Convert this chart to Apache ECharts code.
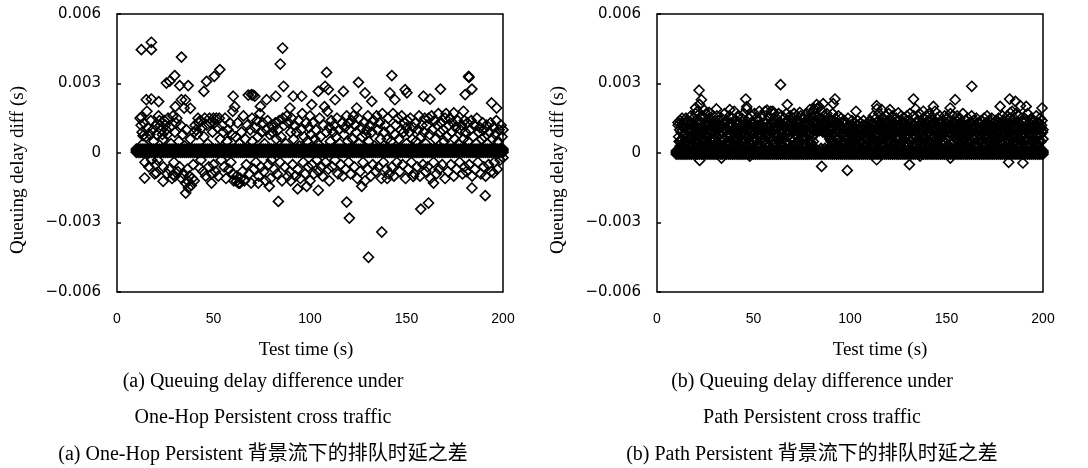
<!DOCTYPE html>
<html>
<head>
<meta charset="utf-8">
<script src="https://cdn.jsdelivr.net/npm/echarts@6/dist/echarts.min.js"></script>
<style>
  html, body { margin: 0; padding: 0; background: #fff; }
  #chart { width: 1088px; height: 468px; }
</style>
</head>
<body>
<div id="chart"></div>
<script>
// x: test time (s), y: queuing delay diff in ms (axis labels show seconds)
var yTickValues = [-6, -3, 0, 3, 6];
var yTickLabels = ['\u22120.006', '\u22120.003', '0', '0.003', '0.006'];

// band of points sitting on zero, one per second
var bandT = [10,11,12,13,14,15,16,17,18,19,20,21,22,23,24,25,26,27,28,29,30,31,32,33,34,35,36,37,38,39,40,41,42,43,44,45,46,47,48,49,50,51,52,53,54,55,56,57,58,59,60,61,62,63,64,65,66,67,68,69,70,71,72,73,74,75,76,77,78,79,80,81,82,83,84,85,86,87,88,89,90,91,92,93,94,95,96,97,98,99,100,101,102,103,104,105,106,107,108,109,110,111,112,113,114,115,116,117,118,119,120,121,122,123,124,125,126,127,128,129,130,131,132,133,134,135,136,137,138,139,140,141,142,143,144,145,146,147,148,149,150,151,152,153,154,155,156,157,158,159,160,161,162,163,164,165,166,167,168,169,170,171,172,173,174,175,176,177,178,179,180,181,182,183,184,185,186,187,188,189,190,191,192,193,194,195,196,197,198,199,200];
var leftBandLevels = [0.03, 0.1, 0.17];
var rightBandLevels = [-0.05, 0.02, 0.09];

// (a) One-Hop Persistent: scattered points
var leftOutliers = [[12.6,4.46],[17.8,4.78],[17.8,4.46],[33.4,4.14],[85.8,4.53],[84.6,3.84],[86.3,2.88],[130.3,-4.5],[137.2,-3.41],[120.4,-2.81],[119,-2.12],[83.6,-2.09],[157.4,-2.42],[161.4,-2.16],[190.8,-1.84],[35.6,-1.73],[182.2,3.31],[182.4,3.26],[142.4,3.34],[108.6,3.48],[125.1,3.05],[53.3,3.6],[50.4,3.31],[46.4,3.09],[45,2.66],[25.6,3.02],[27.3,3.1],[29.9,3.34],[33.4,2.3],[34.8,1.94],[32.5,2.91],[36.9,2.91],[15.2,2.3],[17.8,2.33],[12.6,1.55],[13.5,0.75],[14.3,-1.08],[20.4,-0.86],[23.9,-1.22],[29.1,-0.94],[36.9,-1.22],[49,-1.3],[42.9,-0.65],[61.9,-1.22],[63.7,-1.3],[73.2,-1.3],[78.9,-1.44],[93.6,-1.55],[98.3,-1.44],[104.3,-1.61],[126.8,-1.44],[153.5,-1.01],[164,-1.3],[183.9,-1.51],[195.1,-0.86],[60.2,2.45],[69.7,2.52],[71.4,2.45],[74.3,2.01],[77.5,2.3],[82.3,2.45],[91.3,2.45],[95.7,2.45],[89.6,1.94],[100.9,2.09],[104.3,2.66],[107.8,2.88],[109.5,2.74],[113,2.3],[117.3,2.66],[124.2,1.94],[128.5,2.59],[132,2.23],[141.4,2.59],[144,2.3],[149.3,2.73],[150.2,2.6],[158.8,2.45],[162.2,2.33],[167.6,2.76],[179.5,1.8],[180.4,2.52],[183.9,2.76],[194.1,2.16],[196.7,1.94],[174.5,1.73],[21.6,2.22],[30.2,2.0],[38,1.93],[35.4,2.29]];
var leftCloud = [
  [12,1.5],[12.5,1.2],[13,0.9],[13.5,0.4],[14,1.3],[14.5,-0.4],[15,0.7],[15.5,1.8],[16,1.1],[16.5,-0.6],[17,0.8],[17.5,1.4],[18,-0.3],[18.5,1.0],[19,0.5],[19.5,-0.9],[20,1.2],[20,-0.5],
  [20.5,0.8],[21,-0.3],[21.5,1.6],[22,1.4],[22.5,1.2],[23,1.0],[23.5,0.8],[24,0.6],[24,-0.6],[24.5,1.4],[25,1.2],[25.5,1.0],[26,0.8],[26,-0.9],[26.5,1.5],[27,-0.7],[27.5,1.1],[28,0.4],[28.5,-1.1],[29,1.6],[29.5,-0.4],[30,0.9],[30,-1.0],
  [30.5,1.3],[31,1.5],[31.5,-0.8],[32,0.5],[32.5,-0.6],[33,1.2],[33.5,-1.1],[34,0.8],[34.5,-0.9],[35,0.3],[35.5,-1.3],[36,1.0],[36.5,-0.7],[37,-1.5],[37.5,-1.0],[38,0.6],[38.5,-1.4],[39,-1.1],[39.5,-0.5],[40,0.9],[40,-1.2],
  [40.5,1.2],[41,1.0],[41.5,0.8],[42,1.5],[42.5,1.3],[43,1.4],[43.5,-0.3],[44,1.1],[44.5,-0.8],[45,0.7],[45.5,1.5],[46,-1.0],[46.5,1.2],[47,0.4],[47.5,-0.6],[48,1.5],[48.5,1.3],[49,-0.9],[49.5,0.9],[50,1.5],[50,-0.5],
  [50.5,1.3],[51,-0.8],[51.5,1.5],[52,1.1],[52.5,-1.0],[53,1.5],[53.5,0.6],[54,-0.3],[54.5,1.2],[55,0.9],[55.5,-0.6],[56,1.5],[56.5,-1.1],[57,0.5],[57.5,1.0],[58,-0.7],[58.5,1.3],[59,-0.4],[59.5,0.8],[60,-0.9],[60,1.8],
  [60.5,-1.2],[61,2.0],[61.5,0.7],[62,-1.0],[62.5,1.3],[63,-1.3],[63.5,0.4],[64,-1.1],[64.5,0.9],[65,-0.8],[65.5,1.6],[66,-1.2],[66.5,0.6],[67,-0.5],[67.5,1.2],[68,2.5],[68.5,-0.9],[69,1.0],[69.5,-1.3],[70,0.5],[70,1.5],
  [70.5,2.5],[71,-0.7],[71.5,1.1],[72,-0.4],[72.5,1.4],[73,0.7],[73.5,-1.0],[74,1.7],[74.5,-0.6],[75,0.9],[75.5,1.3],[76,-0.8],[76.5,0.4],[77,-1.2],[77.5,1.0],[78,1.4],[78.5,-0.5],[79,0.8],[79.5,-1.1],[80,1.2],[80,-0.3],
  [80.5,0.9],[81,1.1],[81.5,-0.7],[82,1.3],[82.5,0.6],[83,-0.9],[83.5,1.0],[84,1.4],[84.5,-0.4],[85,0.7],[85.5,-1.2],[86,1.5],[86.5,1.2],[87,-0.6],[87.5,0.4],[88,1.6],[88.5,-1.0],[89,1.3],[89.5,-0.8],[90,0.9],[90,-1.2],
  [90.5,1.5],[91,-0.5],[91.5,0.6],[92,1.2],[92.5,-1.0],[93,0.9],[93.5,-0.7],[94,1.4],[94.5,0.3],[95,-1.1],[95.5,1.0],[96,1.7],[96.5,-0.4],[97,0.7],[97.5,-0.9],[98,1.3],[98.5,0.5],[99,-0.6],[99.5,1.1],[100,-1.2],[100,1.6],
  [100.5,0.8],[101,-0.5],[101.5,1.3],[102,-0.9],[102.5,0.6],[103,1.0],[103.5,-0.3],[104,0.4],[104.5,-0.8],[105,1.5],[105.5,0.7],[106,-0.6],[106.5,-1.0],[107,1.2],[107.5,2.0],[108,-0.4],[108.5,0.9],[109,1.8],[109.5,-0.7],[110,1.1],[110,-1.2],
  [110.5,0.5],[111,1.4],[111.5,-0.6],[112,0.9],[112.5,1.2],[113,-0.3],[113.5,0.7],[114,1.5],[114.5,-0.9],[115,1.0],[115.5,0.4],[116,-0.5],[116.5,1.3],[117,-1.0],[117.5,0.8],[118,1.1],[118.5,-0.7],[119,1.6],[119.5,0.5],[120,-0.4],[120,1.3],
  [120.5,1.0],[121,-0.9],[121.5,1.4],[122,0.6],[122.5,1.6],[123,-0.6],[123.5,1.2],[124,0.9],[124.5,-1.1],[125,1.5],[125.5,0.4],[126,-0.8],[126.5,1.1],[127,0.7],[127.5,-0.4],[128,1.3],[128.5,-1.2],[129,0.8],[129.5,1.0],[130,-0.7],[130,1.6],
  [130.5,0.5],[131,1.2],[131.5,-1.0],[132,0.9],[132.5,-0.5],[133,1.4],[133.5,0.3],[134,-0.8],[134.5,1.6],[135,1.0],[135.5,-0.6],[136,1.3],[136.5,0.6],[137,-1.1],[137.5,1.7],[138,-0.4],[138.5,0.9],[139,1.2],[139.5,-0.7],[140,0.6],[140,-1.1],
  [140.5,1.5],[141,-0.9],[141.5,1.0],[142,0.5],[142.5,-0.6],[143,1.7],[143.5,-1.0],[144,0.8],[144.5,1.2],[145,-0.4],[145.5,1.5],[146,0.6],[146.5,-0.8],[147,1.0],[147.5,1.6],[148,-0.5],[148.5,0.9],[149,1.3],[149.5,-1.1],[150,0.4],[150,1.1],
  [150.5,1.4],[151,-0.7],[151.5,0.9],[152,1.5],[152.5,-0.4],[153,0.6],[153.5,1.1],[154,-0.9],[154.5,1.3],[155,0.5],[155.5,-0.6],[156,1.0],[156.5,1.6],[157,-1.0],[157.5,0.7],[158,1.2],[158.5,-0.5],[159,0.9],[159.5,1.5],[160,-0.8],[160,0.4],
  [160.5,1.2],[161,-0.6],[161.5,1.5],[162,0.8],[162.5,-1.1],[163,1.6],[163.5,1.0],[164,-0.4],[164.5,1.4],[165,0.6],[165.5,-0.9],[166,1.2],[166.5,1.7],[167,-0.7],[167.5,0.9],[168,1.3],[168.5,-0.5],[169,1.0],[169.5,0.5],[170,-1.1],[170,1.5],
  [170.5,1.7],[171,0.7],[171.5,-0.8],[172,1.2],[172.5,1.5],[173,-0.5],[173.5,0.9],[174,1.3],[174.5,-1.0],[175,0.6],[175.5,1.1],[176,-0.7],[176.5,1.4],[177,0.4],[177.5,-0.4],[178,1.0],[178.5,1.2],[179,-0.9],[179.5,0.6],[180,1.4],[180,-0.6],
  [180.5,0.9],[181,-0.8],[181.5,1.3],[182,0.5],[182.5,-0.5],[183,1.0],[183.5,1.4],[184,-1.0],[184.5,0.7],[185,1.2],[185.5,-0.7],[186,0.4],[186.5,1.5],[187,-0.4],[187.5,0.9],[188,1.1],[188.5,-0.9],[189,0.6],[189.5,1.3],[190,-0.6],[190,1.0],
  [190.5,0.7],[191,-1.0],[191.5,1.2],[192,0.4],[192.5,-0.5],[193,0.9],[193.5,1.3],[194,-0.8],[194.5,0.6],[195,1.1],[195.5,-0.4],[196,0.8],[196.5,1.4],[197,-0.7],[197.5,0.5],[198,1.0],[198.5,-0.3],[199,1.2],[199.5,0.7],[200,-0.2],[200,1.0]
];

// (b) Path Persistent: scattered points
var rightOutliers = [[64,2.95],[163.1,2.88],[21.8,2.71],[23,2.3],[46,2.33],[67.5,2.09],[92.2,2.33],[91.3,2.13],[103.1,1.8],[132.9,2.33],[154.5,2.3],[151.9,1.94],[143.2,2.01],[177.8,2.01],[182.7,2.33],[185.7,2.23],[188.3,2.04],[191.3,2.01],[199.5,1.94],[183,1.73],[85.3,-0.58],[98.6,-0.75],[130.8,-0.5],[182.2,-0.4],[189.6,-0.43],[22.1,-0.32],[33.4,-0.22],[48.1,-0.14],[113.8,-0.29],[152,-0.22],[136.3,-0.14],[12.6,0.58],[10.9,1.32],[30.8,1.9],[37.7,1.87],[46.4,1.9],[79.2,1.87],[82.7,2.09],[86.1,2.13],[113.8,2.04],[116.4,1.87],[120.7,1.87],[125,1.73],[20,1.95],[24.5,1.85],[27,1.75],[57,1.85],[60,1.8],[71,1.7],[74,1.75]];
var rightCloud = [
  [11,1.2],[11.5,0.5],[12,1.4],[12,0.3],[12.5,0.9],[13,1.5],[13,0.6],[13.5,1.1],[14,0.4],[14,1.3],[14.5,0.8],[15,1.5],[15,0.3],[15.5,1.0],[16,0.6],[16,1.4],[16.5,1.2],[17,0.4],[17,0.9],[17.5,1.6],[18,0.7],[18,1.3],[18.5,0.3],[19,1.1],[19,1.5],[19.5,0.5],[20,0.9],[20,1.7],
  [20.5,1.3],[20.5,0.4],[21,1.0],[21,1.8],[21.5,0.6],[22,1.4],[22,2.1],[22.5,0.8],[23,1.6],[23,0.3],[23.5,1.1],[24,0.5],[24,1.5],[24.5,0.9],[25,1.3],[25,0.3],[25.5,1.7],[26,0.7],[26,1.2],[26.5,0.4],[27,1.0],[27,1.5],[27.5,0.6],[28,1.3],[28,0.9],[28.5,0.3],[29,1.6],[29,1.1],[29.5,0.5],[30,1.4],[30,0.8],
  [30.5,1.2],[30.5,0.4],[31,1.6],[31,0.7],[31.5,1.0],[32,0.3],[32,1.4],[32.5,0.8],[33,1.2],[33,0.5],[33.5,1.5],[34,0.9],[34,0.2],[34.5,1.3],[35,0.6],[35,1.7],[35.5,1.0],[36,0.4],[36,1.4],[36.5,0.8],[37,1.2],[37,0.3],[37.5,1.6],[38,0.7],[38,1.1],[38.5,0.4],[39,1.5],[39,0.9],[39.5,1.2],[40,0.5],[40,1.8],
  [40.5,1.0],[40.5,0.3],[41,1.4],[41,0.7],[41.5,1.2],[42,0.5],[42,1.6],[42.5,0.9],[43,1.3],[43,0.3],[43.5,1.0],[44,0.6],[44,1.5],[44.5,1.1],[45,0.4],[45,1.7],[45.5,0.8],[46,1.3],[46,0.5],[46.5,2.0],[47,1.0],[47,0.3],[47.5,1.5],[48,0.7],[48,1.2],[48.5,0.4],[49,1.6],[49,0.9],[49.5,1.3],[50,0.5],[50,1.0],
  [50.5,1.7],[50.5,0.6],[51,1.2],[51,0.3],[51.5,1.5],[52,0.8],[52,1.0],[52.5,0.4],[53,1.4],[53,1.8],[53.5,0.7],[54,1.2],[54,0.3],[54.5,1.6],[55,0.9],[55,0.5],[55.5,1.3],[56,1.0],[56,1.8],[56.5,0.4],[57,1.4],[57,0.8],[57.5,1.1],[58,0.3],[58,1.6],[58.5,0.6],[59,1.2],[59,1.8],[59.5,0.9],[60,0.4],[60,1.4],
  [60.5,1.0],[60.5,1.7],[61,0.5],[61,1.3],[61.5,0.8],[62,1.5],[62,0.3],[62.5,1.1],[63,0.6],[63,1.7],[63.5,1.3],[64,0.4],[64,1.0],[64.5,1.6],[65,0.7],[65,1.2],[65.5,0.3],[66,1.5],[66,0.9],[66.5,1.3],[67,0.5],[67,1.7],[67.5,1.0],[68,0.4],[68,1.4],[68.5,0.8],[69,1.6],[69,1.1],[69.5,0.3],[70,1.3],[70,0.7],
  [70.5,1.5],[70.5,0.5],[71,1.0],[71,1.7],[71.5,0.3],[72,1.3],[72,0.8],[72.5,1.6],[73,0.5],[73,1.1],[73.5,1.4],[74,0.4],[74,0.9],[74.5,1.6],[75,1.2],[75,0.6],[75.5,0.3],[76,1.5],[76,1.0],[76.5,0.7],[77,1.3],[77,0.4],[77.5,1.7],[78,0.9],[78,1.2],[78.5,0.5],[79,1.5],[79,0.8],[79.5,1.1],[80,0.4],[80,1.7],
  [80.5,1.3],[80.5,0.7],[81,1.5],[81,0.5],[81.5,1.0],[81.5,1.9],[82,1.2],[82,0.2],[82.5,1.6],[83,1.0],[83,1.9],[83.5,1.3],[84,0.95],[84,2.0],[84.5,1.5],[85,1.1],[85,0.2],[85.5,1.8],[86,1.3],[86,0.9],[86.5,1.6],[87,1.0],[87,0.2],[87.5,1.4],[88,0.9],[88,1.7],[88.5,1.2],[89,0.8],[89,1.5],[89.5,0.6],[90,1.1],[90,0.3],
  [90.5,1.4],[90.5,0.5],[91,1.0],[91,1.7],[91.5,0.3],[92,1.2],[92,0.7],[92.5,1.5],[93,0.4],[93,1.0],[93.5,1.3],[94,0.6],[94,1.6],[94.5,0.9],[95,1.2],[95,0.3],[95.5,1.5],[96,0.8],[96,1.1],[96.5,0.4],[97,1.4],[97,0.7],[97.5,1.0],[98,0.3],[98,1.3],[98.5,0.6],[99,1.5],[99,0.9],[99.5,1.2],[100,0.4],[100,0.8],
  [100.5,1.2],[100.5,0.5],[101,0.9],[101,1.4],[101.5,0.3],[102,1.1],[102,0.7],[102.5,1.3],[103,0.4],[103,0.9],[103.5,1.2],[104,0.6],[104,1.4],[104.5,0.3],[105,1.0],[105,0.7],[105.5,1.3],[106,0.5],[106,1.1],[106.5,0.8],[107,1.4],[107,0.3],[107.5,1.0],[108,0.6],[108,1.2],[108.5,0.4],[109,0.9],[109,1.3],[109.5,0.6],[110,1.1],[110,0.3],
  [110.5,1.4],[110.5,0.7],[111,1.0],[111,0.4],[111.5,1.3],[112,0.6],[112,1.6],[112.5,0.9],[113,1.2],[113,0.3],[113.5,1.5],[114,0.8],[114,1.9],[114.5,1.1],[115,0.5],[115,1.7],[115.5,1.3],[116,0.4],[116,1.0],[116.5,1.5],[117,0.7],[117,1.2],[117.5,0.3],[118,1.4],[118,0.9],[118.5,1.6],[119,0.5],[119,1.1],[119.5,1.3],[120,0.6],[120,1.7],
  [120.5,1.0],[120.5,0.4],[121,1.4],[121,0.8],[121.5,1.2],[122,0.3],[122,1.6],[122.5,0.9],[123,1.3],[123,0.5],[123.5,1.1],[124,0.7],[124,1.5],[124.5,0.3],[125,1.0],[125,1.4],[125.5,0.6],[126,1.2],[126,0.4],[126.5,1.6],[127,0.9],[127,1.3],[127.5,0.5],[128,1.1],[128,1.5],[128.5,0.3],[129,0.8],[129,1.2],[129.5,1.6],[130,0.6],[130,1.0],
  [130.5,1.4],[130.5,0.4],[131,1.1],[131,1.7],[131.5,0.7],[132,1.3],[132,0.3],[132.5,1.0],[133,1.6],[133,0.6],[133.5,1.2],[134,0.4],[134,1.9],[134.5,0.9],[135,1.4],[135,0.5],[135.5,1.1],[136,0.8],[136,1.7],[136.5,0.3],[137,1.3],[137,1.0],[137.5,0.6],[138,1.5],[138,1.8],[138.5,0.4],[139,1.2],[139,0.8],[139.5,1.6],[140,0.5],[140,1.1],
  [140.5,1.4],[140.5,0.3],[141,0.9],[141,1.7],[141.5,1.2],[142,0.6],[142,1.5],[142.5,0.4],[143,1.0],[143,1.3],[143.5,0.7],[144,1.8],[144,0.3],[144.5,1.1],[145,1.5],[145,0.5],[145.5,0.9],[146,1.3],[146,0.2],[146.5,1.6],[147,0.7],[147,1.1],[147.5,0.4],[148,1.4],[148,0.9],[148.5,1.2],[149,0.5],[149,1.6],[149.5,1.0],[150,0.3],[150,1.3],
  [150.5,1.5],[150.5,0.6],[151,1.1],[151,0.3],[151.5,1.4],[152,0.8],[152,1.7],[152.5,1.0],[153,0.4],[153,1.3],[153.5,1.6],[154,0.7],[154,1.1],[154.5,0.3],[155,1.4],[155,0.9],[155.5,1.6],[156,0.5],[156,1.2],[156.5,0.8],[157,1.5],[157,0.3],[157.5,1.0],[158,1.3],[158,0.6],[158.5,1.7],[159,0.4],[159,1.1],[159.5,0.8],[160,1.4],[160,0.5],
  [160.5,1.2],[160.5,0.3],[161,1.5],[161,0.7],[161.5,1.0],[162,0.4],[162,1.3],[162.5,0.9],[163,1.6],[163,0.5],[163.5,1.1],[164,0.3],[164,1.4],[164.5,0.8],[165,1.2],[165,0.4],[165.5,1.5],[166,0.7],[166,1.0],[166.5,0.3],[167,1.3],[167,0.6],[167.5,1.1],[168,0.4],[168,1.4],[168.5,0.9],[169,1.2],[169,0.3],[169.5,1.5],[170,0.7],[170,1.0],
  [170.5,1.3],[170.5,0.4],[171,1.6],[171,0.8],[171.5,1.1],[172,0.3],[172,1.4],[172.5,0.7],[173,1.2],[173,0.5],[173.5,1.5],[174,0.9],[174,0.3],[174.5,1.3],[175,0.6],[175,1.1],[175.5,1.4],[176,0.4],[176,0.9],[176.5,1.2],[177,0.6],[177,1.5],[177.5,0.3],[178,1.0],[178,1.3],[178.5,0.7],[179,1.6],[179,0.4],[179.5,1.1],[180,0.8],[180,1.4],
  [180.5,1.0],[180.5,0.3],[181,1.3],[181,0.6],[181.5,1.6],[182,0.9],[182,1.2],[182.5,0.4],[183,1.5],[183,0.7],[183.5,1.1],[184,1.8],[184,0.3],[184.5,1.3],[185,0.8],[185,1.5],[185.5,0.5],[186,1.1],[186,1.7],[186.5,0.4],[187,1.3],[187,0.9],[187.5,1.6],[188,0.6],[188,1.2],[188.5,0.3],[189,1.4],[189,1.0],[189.5,0.7],[190,1.3],[190,0.4],
  [190.5,1.5],[190.5,0.8],[191,1.1],[191,0.3],[191.5,1.4],[192,0.6],[192,1.7],[192.5,1.0],[193,0.4],[193,1.3],[193.5,0.8],[194,1.5],[194,0.3],[194.5,1.1],[195,0.6],[195,1.4],[195.5,0.9],[196,1.2],[196,0.4],[196.5,1.6],[197,0.7],[197,1.0],[197.5,0.3],[198,1.3],[198,0.8],[198.5,1.5],[199,0.5],[199,1.1],[199.5,1.4],[200,0.6],[200,1.0]
];
// (b) the dark core of the cloud, between the band and ~1.3 ms
var rightCore = [
  [11.25,0.7],[11.75,1.0],[12.25,0.5],[12.75,1.2],[13.25,0.3],[13.75,0.8],[14.25,1.1],[14.75,0.5],[15.25,1.3],[15.75,0.7],[16.25,0.4],[16.75,1.0],[17.25,1.3],[17.75,0.6],[18.25,1.0],[18.75,0.4],[19.25,0.8],[19.75,1.2],[20.25,0.6],[20.75,0.9],
  [21.25,1.1],[21.75,0.4],[22.25,0.9],[22.75,1.3],[23.25,0.6],[23.75,0.3],[24.25,1.0],[24.75,0.8],[25.25,1.2],[25.75,0.5],[26.25,0.7],[26.75,1.3],[27.25,0.4],[27.75,0.9],[28.25,1.1],[28.75,0.6],[29.25,1.2],[29.75,0.3],[30.25,0.8],[30.75,1.0],
  [31.25,0.5],[31.75,1.2],[32.25,0.8],[32.75,0.3],[33.25,1.1],[33.75,0.9],[34.25,0.6],[34.75,1.3],[35.25,0.4],[35.75,1.0],[36.25,0.7],[36.75,1.2],[37.25,0.5],[37.75,0.8],[38.25,1.3],[38.75,0.3],[39.25,1.0],[39.75,0.6],[40.25,1.1],[40.75,0.9],
  [41.25,1.3],[41.75,0.6],[42.25,1.0],[42.75,0.4],[43.25,0.8],[43.75,1.2],[44.25,0.5],[44.75,0.9],[45.25,1.1],[45.75,0.3],[46.25,1.2],[46.75,0.7],[47.25,1.0],[47.75,0.5],[48.25,0.9],[48.75,1.3],[49.25,0.4],[49.75,0.8],[50.25,1.1],[50.75,0.6],
  [51.25,0.9],[51.75,0.4],[52.25,1.2],[52.75,0.7],[53.25,1.0],[53.75,0.3],[54.25,0.8],[54.75,1.1],[55.25,0.5],[55.75,1.3],[56.25,0.7],[56.75,0.9],[57.25,0.4],[57.75,1.2],[58.25,0.8],[58.75,1.0],[59.25,0.5],[59.75,1.3],[60.25,0.6],[60.75,1.1],
  [61.25,0.4],[61.75,1.1],[62.25,0.7],[62.75,1.3],[63.25,0.5],[63.75,0.9],[64.25,1.2],[64.75,0.3],[65.25,1.0],[65.75,0.6],[66.25,1.1],[66.75,0.8],[67.25,1.3],[67.75,0.4],[68.25,0.9],[68.75,1.2],[69.25,0.6],[69.75,1.0],[70.25,0.3],[70.75,1.2],
  [71.25,0.8],[71.75,1.2],[72.25,0.4],[72.75,1.0],[73.25,0.7],[73.75,1.3],[74.25,0.5],[74.75,1.1],[75.25,0.9],[75.75,0.4],[76.25,1.2],[76.75,0.6],[77.25,1.0],[77.75,0.3],[78.25,0.8],[78.75,1.3],[79.25,0.5],[79.75,1.1],[80.25,0.7],[80.75,1.0],
  [81.25,0.8],[81.75,1.2],[82.25,1.4],[82.75,1.1],[83.25,1.3],[83.75,1.0],[84.25,1.2],[84.75,1.4],[85.25,1.0],[85.75,1.3],[86.25,1.1],[86.75,1.2],[87.25,0.9],[87.75,1.3],[88.25,0.8],[88.75,1.1],[89.25,0.7],[89.75,1.0],[90.25,0.5],[90.75,0.8],
  [91.25,1.1],[91.75,0.5],[92.25,0.9],[92.75,1.3],[93.25,0.6],[93.75,1.0],[94.25,0.3],[94.75,1.2],[95.25,0.8],[95.75,1.0],[96.25,0.5],[96.75,1.3],[97.25,0.9],[97.75,0.4],[98.25,1.1],[98.75,0.7],[99.25,1.2],[99.75,0.5],[100.25,1.0],[100.75,0.7],
  [101.25,1.1],[101.75,0.5],[102.25,0.9],[102.75,0.4],[103.25,1.2],[103.75,0.7],[104.25,1.0],[104.75,0.5],[105.25,0.8],[105.75,1.1],[106.25,0.4],[106.75,1.2],[107.25,0.7],[107.75,0.9],[108.25,0.3],[108.75,1.1],[109.25,0.6],[109.75,1.0],[110.25,0.8],[110.75,0.4],
  [111.25,1.2],[111.75,0.6],[112.25,1.0],[112.75,0.4],[113.25,0.8],[113.75,1.3],[114.25,0.5],[114.75,1.0],[115.25,0.7],[115.75,1.2],[116.25,0.3],[116.75,0.9],[117.25,1.1],[117.75,0.6],[118.25,1.3],[118.75,0.4],[119.25,0.8],[119.75,1.0],[120.25,0.5],[120.75,1.2],
  [121.25,0.6],[121.75,1.0],[122.25,0.8],[122.75,1.3],[123.25,0.4],[123.75,0.9],[124.25,1.1],[124.75,0.6],[125.25,1.2],[125.75,0.3],[126.25,0.8],[126.75,1.0],[127.25,0.5],[127.75,1.3],[128.25,0.7],[128.75,1.0],[129.25,0.4],[129.75,1.1],[130.25,0.8],[130.75,1.2],
  [131.25,0.5],[131.75,0.9],[132.25,1.2],[132.75,0.6],[133.25,1.0],[133.75,0.3],[134.25,1.3],[134.75,0.7],[135.25,0.9],[135.75,1.2],[136.25,0.5],[136.75,1.0],[137.25,0.8],[137.75,0.4],[138.25,1.1],[138.75,0.7],[139.25,1.3],[139.75,0.5],[140.25,0.9],[140.75,1.1],
  [141.25,0.4],[141.75,1.2],[142.25,0.8],[142.75,1.0],[143.25,0.5],[143.75,1.3],[144.25,0.7],[144.75,0.9],[145.25,1.2],[145.75,0.3],[146.25,1.0],[146.75,0.6],[147.25,1.3],[147.75,0.8],[148.25,0.5],[148.75,1.1],[149.25,0.9],[149.75,1.3],[150.25,0.6],[150.75,1.0],
  [151.25,0.7],[151.75,1.2],[152.25,0.4],[152.75,1.0],[153.25,0.8],[153.75,1.3],[154.25,0.5],[154.75,1.0],[155.25,0.7],[155.75,1.2],[156.25,0.3],[156.75,1.0],[157.25,0.8],[157.75,1.3],[158.25,0.4],[158.75,0.9],[159.25,1.2],[159.75,0.6],[160.25,1.0],[160.75,0.8],
  [161.25,1.2],[161.75,0.5],[162.25,0.9],[162.75,1.3],[163.25,0.7],[163.75,1.0],[164.25,0.6],[164.75,1.2],[165.25,0.9],[165.75,0.4],[166.25,1.3],[166.75,0.8],[167.25,1.0],[167.75,0.5],[168.25,1.1],[168.75,0.7],[169.25,0.9],[169.75,1.2],[170.25,0.4],[170.75,0.8],
  [171.25,1.0],[171.75,0.5],[172.25,1.2],[172.75,0.9],[173.25,0.4],[173.75,1.1],[174.25,0.7],[174.75,1.0],[175.25,0.3],[175.75,0.8],[176.25,1.3],[176.75,0.6],[177.25,1.0],[177.75,0.8],[178.25,0.5],[178.75,1.1],[179.25,0.9],[179.75,1.3],[180.25,0.5],[180.75,1.2],
  [181.25,0.8],[181.75,1.0],[182.25,0.5],[182.75,1.3],[183.25,0.9],[183.75,0.6],[184.25,1.1],[184.75,0.4],[185.25,1.2],[185.75,0.8],[186.25,1.0],[186.75,0.6],[187.25,0.4],[187.75,1.2],[188.25,0.9],[188.75,1.1],[189.25,0.5],[189.75,1.3],[190.25,0.8],[190.75,1.0],
  [191.25,0.6],[191.75,1.2],[192.25,0.9],[192.75,0.4],[193.25,1.1],[193.75,0.7],[194.25,1.0],[194.75,1.3],[195.25,0.5],[195.75,0.9],[196.25,1.1],[196.75,0.7],[197.25,1.3],[197.75,0.5],[198.25,1.0],[198.75,0.8],[199.25,1.2],[199.75,0.9]
];

var yTitle = 'Queuing delay diff (s)';
var xTitle = 'Test time (s)';
var leftCaption = ['(a) Queuing delay difference under', 'One-Hop Persistent cross traffic', '(a) One-Hop Persistent 背景流下的排队时延之差'];
var rightCaption = ['(b) Queuing delay difference under', 'Path Persistent cross traffic', '(b) Path Persistent 背景流下的排队时延之差'];

var serif = '"Liberation Serif", "Times New Roman", "Noto Sans CJK SC", serif';

function band(levels) {
  var out = [];
  levels.forEach(function (lv) {
    bandT.forEach(function (t) { out.push([t, lv]); });
  });
  return out;
}

function xAxisOf(i) {
  return {
    gridIndex: i, type: 'value', min: 0, max: 200, interval: 50,
    axisLine: { show: false }, axisTick: { show: false }, splitLine: { show: false },
    axisLabel: { margin: 20, color: '#000', fontSize: 14, fontFamily: '"Liberation Sans Narrow", "Liberation Sans", Arial, sans-serif' }
  };
}
function yAxisOf(i) {
  return {
    gridIndex: i, type: 'value', min: -6, max: 6, interval: 3,
    axisLine: { show: false }, splitLine: { show: false },
    axisTick: { show: true, inside: true, length: 4, lineStyle: { color: '#000', width: 1.5 } },
    axisLabel: {
      margin: 16, color: '#000', fontSize: 15, fontFamily: '"DejaVu Sans", sans-serif',
      formatter: function (v) { return yTickLabels[yTickValues.indexOf(v)]; }
    }
  };
}
function scatter(i, data) {
  return {
    type: 'scatter', xAxisIndex: i, yAxisIndex: i, data: data,
    symbol: 'diamond', symbolSize: 10, silent: true,
    itemStyle: { color: 'rgba(0,0,0,0)', borderColor: '#000', borderWidth: 1.6, opacity: 1 }
  };
}
function text(x, y, s, size, rot) {
  return {
    type: 'text', x: x, y: y, rotation: rot || 0, silent: true,
    style: { text: s, font: size + 'px ' + serif, fill: '#000', align: 'center', verticalAlign: 'middle' }
  };
}

var chart = echarts.init(document.getElementById('chart'));
var option = {
  backgroundColor: '#fff',
  animation: false,
  grid: [
    { left: 117, top: 14, width: 386, height: 278, show: true, borderColor: '#000', borderWidth: 1.5, backgroundColor: 'transparent' },
    { left: 657, top: 14, width: 386, height: 278, show: true, borderColor: '#000', borderWidth: 1.5, backgroundColor: 'transparent' }
  ],
  xAxis: [xAxisOf(0), xAxisOf(1)],
  yAxis: [yAxisOf(0), yAxisOf(1)],
  series: [
    scatter(0, band(leftBandLevels)),
    scatter(0, leftCloud),
    scatter(0, leftOutliers),
    scatter(1, band(rightBandLevels)),
    scatter(1, rightCloud),
    scatter(1, rightCore),
    scatter(1, rightOutliers)
  ],
  graphic: { elements: [
    text(18, 170, yTitle, 19, Math.PI / 2),
    text(558, 170, yTitle, 19, Math.PI / 2),
    text(306, 350, xTitle, 19),
    text(880, 350, xTitle, 19),
    text(263, 382, leftCaption[0], 20),
    text(263, 418, leftCaption[1], 20),
    text(263, 455, leftCaption[2], 20),
    text(812, 382, rightCaption[0], 20),
    text(812, 418, rightCaption[1], 20),
    text(812, 455, rightCaption[2], 20)
  ] }
};
chart.setOption(option);
</script>
</body>
</html>
